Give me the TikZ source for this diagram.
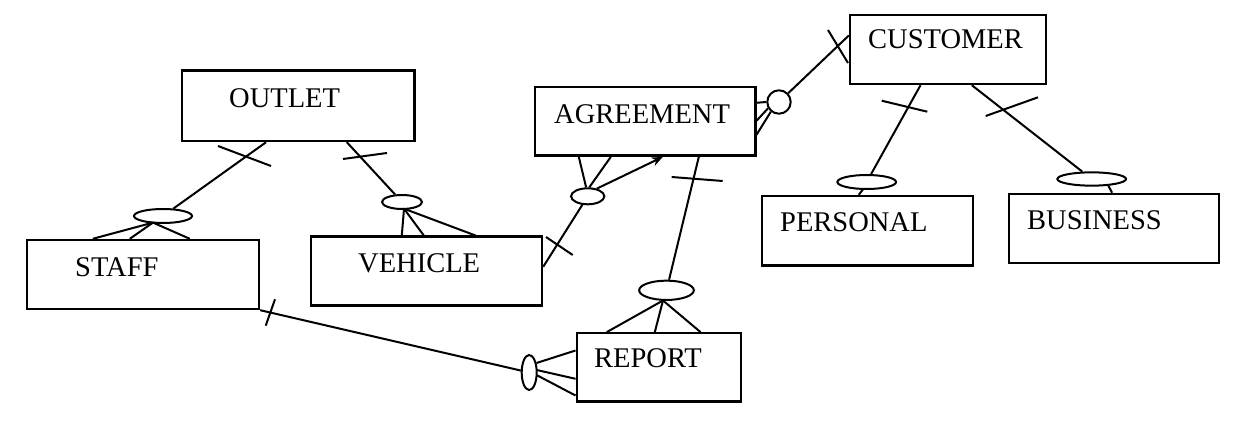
\documentclass[tikz,border=0pt]{standalone}
\usepackage{fontspec}
\setmainfont{Liberation Serif}
\usetikzlibrary{shapes.geometric,calc,arrows.meta}
\begin{document}
\begin{tikzpicture}[x=1pt,y=-1pt,
  box/.style={draw,line width=2.4pt,rectangle,inner sep=0pt},
  lbl/.style={anchor=base west,inner sep=0pt,font=\fontsize{28.5}{30}\selectfont},
  oval/.style={draw,line width=2pt,ellipse,inner sep=0pt},
  rnd/.style={draw,line width=2pt,circle,inner sep=0pt},
  conn/.style={line width=2pt},
  tick/.style={line width=2pt}]
\useasboundingbox (0,0) rectangle (1251,435);
% boxes
\node[box,minimum width=232.6pt,minimum height=70.3pt] (outlet) at (298,105.85) {};
\node[box,minimum width=232.3pt,minimum height=69pt] (staff) at (142.85,274.5) {};
\node[box,minimum width=231pt,minimum height=69pt] (vehicle) at (426.5,271.2) {};
\node[box,minimum width=220.3pt,minimum height=68.4pt] (agreement) at (645.15,121.5) {};
\node[box,minimum width=195.7pt,minimum height=69pt] (customer) at (947.85,49.5) {};
\node[box,minimum width=211pt,minimum height=69.7pt] (personal) at (867.2,230.85) {};
\node[box,minimum width=210pt,minimum height=69.3pt] (business) at (1114,228.65) {};
\node[box,minimum width=164pt,minimum height=68.4pt] (report) at (658.7,367.5) {};
% labels
\node[lbl] (toutlet) at (229,108) {OUTLET};
\node[lbl] (tstaff) at (75,277) {STAFF};
\node[lbl] (tvehicle) at (358,273) {VEHICLE};
\node[lbl] (tagreement) at (554,124) {AGREEMENT};
\node[lbl] (tcustomer) at (868,48.5) {CUSTOMER};
\node[lbl] (tpersonal) at (780,232) {PERSONAL};
\node[lbl] (tbusiness) at (1027,230) {BUSINESS};
\node[lbl] (treport) at (594,368) {REPORT};
% ovals and circle
\node[oval,minimum width=58pt,minimum height=14pt] (e1) at (163,216) {};
\node[oval,minimum width=40pt,minimum height=14pt] (e2) at (402,202) {};
\node[oval,minimum width=33.3pt,minimum height=16pt] (e3) at (587.7,196.3) {};
\node[oval,minimum width=54.7pt,minimum height=19.3pt] (e5) at (666.5,290.3) {};
\node[oval,minimum width=15pt,minimum height=35pt] (e6) at (529.2,372.5) {};
\node[oval,minimum width=58.7pt,minimum height=14pt] (e7) at (866.7,182) {};
\node[oval,minimum width=68.7pt,minimum height=13.3pt] (e8) at (1091.7,179) {};
\node[rnd,minimum size=23.4pt] (c) at (779,102) {};
% OUTLET - STAFF
\draw[conn] ($(outlet.south west)+(85.6,0)$) -- (e1);
\draw[tick] (218,146) -- (271,166);
\coordinate (f1) at (153,222.6);
\draw[conn] (f1) -- ($(staff.north west)+(67.3,0)$);
\draw[conn] (f1) -- ($(staff.north west)+(104.3,0)$);
\draw[conn] (f1) -- ($(staff.north west)+(164.3,0)$);
% OUTLET - VEHICLE
\draw[conn] ($(outlet.south west)+(166.3,0)$) -- (e2);
\draw[tick] (343,159) -- (387,153);
\coordinate (f2) at (404,208.7);
\draw[conn] (f2) -- ($(vehicle.north west)+(92,0)$);
\draw[conn] (f2) -- ($(vehicle.north west)+(114,0)$);
\draw[conn] (f2) -- ($(vehicle.north west)+(165.7,0)$);
% VEHICLE - AGREEMENT
\draw[conn] ($(vehicle.north east)+(0,31.3)$) -- (e3);
\draw[tick] (546,237) -- (572.7,255);
\draw[conn] (e3.100) -- ($(agreement.south west)+(45,0)$);
\draw[conn] (e3.80) -- ($(agreement.south west)+(77,0)$);
\draw[conn,-{Stealth[length=11pt,width=9pt]}] (e3.40) -- ($(agreement.south west)+(129,0)$);
% AGREEMENT - CUSTOMER
\draw[conn] ($(customer.north west)+(0,21.7)$) -- (c);
\draw[tick] (828,30) -- (848,63);
\draw[conn] (c.180) -- ($(agreement.north east)+(0,16.7)$);
\draw[conn] (c.210) -- ($(agreement.north east)+(0,34.7)$);
\draw[conn] (c.230) -- ($(agreement.north east)+(0,48.7)$);
% AGREEMENT - REPORT
\draw[conn] ($(agreement.south west)+(165,0)$) -- (e5);
\draw[tick] (671.7,177) -- (722.7,181);
\coordinate (f5) at (663,300.5);
\draw[conn] (f5) -- ($(report.north west)+(31.3,0)$);
\draw[conn] (f5) -- ($(report.north west)+(79.3,0)$);
\draw[conn] (f5) -- ($(report.north west)+(125,0)$);
% STAFF - REPORT
\draw[conn] (staff.south east) -- (e6);
\draw[tick] (275,299.3) -- (265.7,325.7);
\draw[conn] ($(e6.center)+(7.3,-9.5)$) -- ($(report.north west)+(0,18.4)$);
\draw[conn] ($(e6.center)+(7.5,-2.5)$) -- ($(report.north west)+(0,46.7)$);
\draw[conn] ($(e6.center)+(7.3,2.5)$) -- ($(report.north west)+(0,63.4)$);
% CUSTOMER - PERSONAL
\draw[conn] ($(customer.south west)+(71.7,0)$) -- (e7);
\draw[tick] (881.7,100.7) -- (927.3,111.7);
\draw[conn] ($(e7.center)+(-3.4,7)$) -- ($(personal.north west)+(98.3,0)$);
% CUSTOMER - BUSINESS
\draw[conn] ($(customer.south west)+(123,0)$) -- (e8);
\draw[tick] (985.7,116) -- (1038,97.3);
\draw[conn] ($(e8.center)+(16.6,6.5)$) -- ($(business.north west)+(104.3,0)$);
\end{tikzpicture}
\end{document}
